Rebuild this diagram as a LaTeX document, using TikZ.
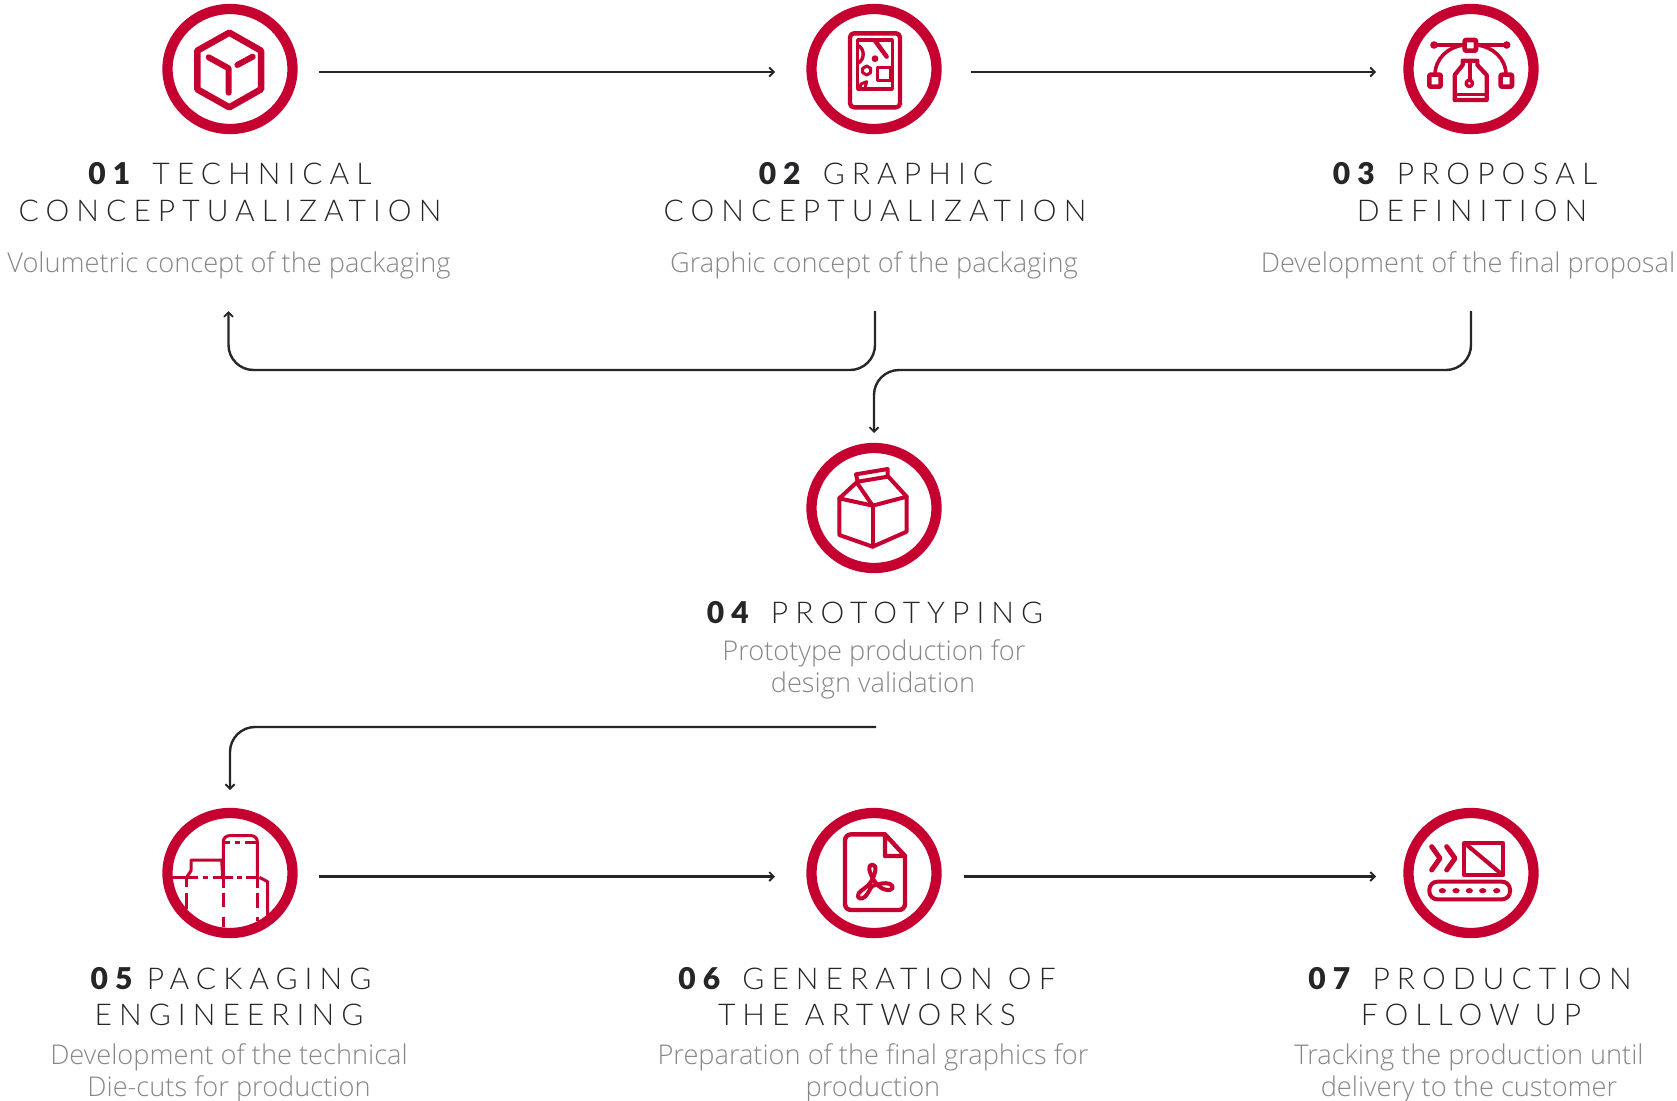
\documentclass[tikz,border=0pt]{standalone}
\usepackage{fontspec}
\usetikzlibrary{arrows.meta,shapes.geometric}
\setmainfont{Open Sans}[UprightFont=* Light,BoldFont=* Bold]
\newfontfamily\ttlfont{Lato}[UprightFont=* Light,BoldFont=* Black,LetterSpace=23.5]
\definecolor{crim}{RGB}{197,0,48}
\definecolor{ttl}{RGB}{38,38,40}
\definecolor{dsc}{RGB}{135,135,135}
\tikzset{
 ring/.style={ellipse,draw=crim,line width=10.3pt,minimum width=125pt,minimum height=120pt,inner sep=0pt,outer sep=0pt},
 flow/.style={draw=ttl,line width=2.4pt,-{Straight Barb[length=4.5pt,width=9pt,line width=1.8pt]},rounded corners=25pt},
 ttlnode/.style={font=\fontsize{30}{37}\selectfont\ttlfont,text=ttl,align=center,anchor=base,inner sep=0pt},
 dscnode/.style={font=\fontsize{27.2}{32}\selectfont,text=dsc,align=center,anchor=base,inner sep=0pt},
 ic/.style={draw=crim,line join=round,line cap=round},
 iconscope/.style={shift={(#1)},x=0.33333pt,y=-0.33333pt}
}
\begin{document}
\begin{tikzpicture}[x=1pt,y=-1pt]
\useasboundingbox (0,0) rectangle (1677,1100);
% rings
\node[ring] (c1) at (230,69) {};
\node[ring] (c2) at (874,69) {};
\node[ring] (c3) at (1471,69) {};
\node[ring] (c4) at (874,508) {};
\node[ring] (c5) at (230,873) {};
\node[ring] (c6) at (874,873) {};
\node[ring] (c7) at (1471,873) {};
% titles
\node[ttlnode] (t1a) at (230,184) {\textbf{01} TECHNICAL};
\node[ttlnode] (t1b) at (230,221) {CONCEPTUALIZATION};
\node[dscnode] (d1) at (229,272) {Volumetric concept of the packaging};
\node[ttlnode] (t2a) at (876,184) {\textbf{02} GRAPHIC};
\node[ttlnode] (t2b) at (875,221) {CONCEPTUALIZATION};
\node[dscnode] (d2) at (874,272) {Graphic concept of the packaging};
\node[ttlnode] (t3a) at (1465,184) {\textbf{03} PROPOSAL};
\node[ttlnode] (t3b) at (1472,221) {DEFINITION};
\node[dscnode] (d3) at (1468,272) {Development of the final proposal};
\node[ttlnode] (t4a) at (875,623) {\textbf{04} PROTOTYPING};
\node[dscnode] (d4a) at (874,660) {Prototype production for};
\node[dscnode] (d4b) at (873,692) {design validation};
\node[ttlnode] (t5a) at (231,989) {\textbf{05} \hspace{-8pt}PACKAGING};
\node[ttlnode] (t5b) at (229,1025) {ENGINEERING};
\node[dscnode] (d5a) at (229,1064) {Development of the technical};
\node[dscnode] (d5b) at (229,1096) {Die-cuts for production};
\node[ttlnode] (t6a) at (867,989) {\textbf{06} GENERATION OF};
\node[ttlnode] (t6b) at (867,1025) {THE ARTWORKS};
\node[dscnode] (d6a) at (873,1064) {Preparation of the final graphics for};
\node[dscnode] (d6b) at (873,1096) {production};
\node[ttlnode] (t7a) at (1470,989) {\textbf{07} PRODUCTION};
\node[ttlnode] (t7b) at (1471,1025) {FOLLOW UP};
\node[dscnode] (d7a) at (1469,1064) {Tracking the production until};
\node[dscnode] (d7b) at (1469,1096) {delivery to the customer};
% connector ends
\coordinate (s12) at (319,72); \coordinate (e12) at (775,72);
\coordinate (s23) at (971,72); \coordinate (e23) at (1376,72);
\coordinate (s21) at (875,311); \coordinate (e21) at (228.5,311);
\coordinate (s34) at (1471,311); \coordinate (e34) at (874,433);
\coordinate (s45) at (876,727); \coordinate (e45) at (230,790);
\coordinate (s56) at (319,876.5); \coordinate (e56) at (775,876.5);
\coordinate (s67) at (964,876.5); \coordinate (e67) at (1376,876.5);
\draw[flow] (s12) -- (e12);
\draw[flow] (s23) -- (e23);
\draw[flow] (s21) -- (875,370) -- (228.5,370) -- (e21);
\draw[flow] (s34) -- (1471,370) -- (874,370) -- (e34);
\draw[flow] (s45) -- (230,727) -- (e45);
\draw[flow] (s56) -- (e56);
\draw[flow] (s67) -- (e67);
% icon 1
\begin{scope}[iconscope={140,0}]
\draw[ic,line width=6.5pt] (268,98)--(363,152)--(363,268)--(268,322)--(172,268)--(172,152)--cycle;
\draw[ic,line width=6pt] (206,172)--(266,205)--(266,278);
\draw[ic,line width=6pt] (292,195)--(338,170);
\end{scope}
% icon 2
\begin{scope}[iconscope={785,0}]
\draw[ic,line width=4.4pt,rounded corners=4pt] (195,100) rectangle (345,322);
\draw[ic,line width=3.4pt] (218,120) rectangle (322,267);
\draw[ic,line width=3.4pt] (218,136) .. controls (240,145) and (240,180) .. (218,190);
\draw[ic,line width=4.4pt] (270,122)--(305,170);
\fill[crim] (270,176) circle[radius=3.4pt];
\draw[ic,line width=3pt] (245,198)--(257,205)--(257,218)--(245,225)--(233,218)--(233,205)--cycle;
\draw[ic,line width=3.4pt] (278,202) rectangle (318,242);
\draw[ic,line width=3pt] (224,264)--(228,252)--(245,245)--(240,264);
\end{scope}
% icon 3
\begin{scope}[iconscope={1380,0}]
\draw[ic,line width=3pt] (162,135)--(380,135);
\fill[crim] (162,135) circle[radius=3.8pt] (380,135) circle[radius=3.8pt];
\draw[ic,line width=3.6pt] (165,225) .. controls (165,175) and (205,140) .. (252,135);
\draw[ic,line width=3.6pt] (378,225) .. controls (378,175) and (338,140) .. (290,135);
\draw[ic,line width=4.6pt,fill=white,rounded corners=1pt] (254,120) rectangle (288,152);
\draw[ic,line width=4.6pt,fill=white,rounded corners=1pt] (148,224) rectangle (182,260);
\draw[ic,line width=4.6pt,fill=white,rounded corners=1pt] (362,224) rectangle (396,260);
\draw[ic,line width=4.2pt] (248,182)--(292,182)--(292,195)--(320,225)--(320,300)--(224,300)--(224,225)--(248,195)--cycle;
\draw[ic,line width=3.2pt] (270,185)--(270,240);
\draw[ic,line width=3.4pt] (268,250) circle[radius=3.2pt];
\draw[ic,line width=3pt] (224,284)--(320,284);
\end{scope}
% icon 4
\begin{scope}[iconscope={785,435}]
\draw[ic,line width=4pt] (163,190)--(163,300)--(263,335)--(365,290)--(365,185)--(263,212)--cycle;
\draw[ic,line width=4pt] (263,212)--(263,335);
\draw[ic,line width=4pt] (163,190)--(215,142)--(263,212);
\draw[ic,line width=4pt] (310,125)--(365,185);
\draw[ic,line width=4pt] (213,118)--(308,102)--(308,125)--(218,140)--cycle;
\end{scope}
% icon 5
\begin{scope}[iconscope={140,800}]
\draw[ic,line width=3pt,line cap=butt,rounded corners=6pt] (250,232)--(250,107)--(352,107)--(352,232);
\draw[ic,line width=3pt,line cap=butt] (248,232)--(245,180)--(153,180)--(153,212)--(140,232);
\draw[ic,line width=3pt,line cap=butt] (358,232)--(383,245)--(383,350);
\foreach \xa/\xb in {250/270,285/300,315/352}{\draw[ic,line width=2.8pt,line cap=butt] (\xa,128)--(\xb,128);}
\foreach \xa/\xb in {98/175,188/203,218/280,292/305,318/358}{\draw[ic,line width=3pt,line cap=butt] (\xa,232)--(\xb,232);}
\foreach \ya/\yb in {232/265,280/320,352/382}{\draw[ic,line width=3.4pt,line cap=butt] (250,\ya)--(250,\yb);}
\foreach \ya/\yb in {232/262,280/328}{\draw[ic,line width=3.4pt,line cap=butt] (140,\ya)--(140,\yb);}
\foreach \ya/\yb in {232/265,278/325,352/362}{\draw[ic,line width=2.6pt,line cap=butt] (352,\ya)--(352,\yb);}
\end{scope}
% icon 6
\begin{scope}[iconscope={785,800}]
\draw[ic,line width=4.4pt,rounded corners=6pt] (300,103)--(180,103)--(180,330)--(360,330)--(360,168);
\draw[ic,line width=4.4pt] (300,103)--(360,168)--(300,168)--cycle;
\draw[ic,line width=4pt] (266,240) .. controls (250,212) and (248,194) .. (262,194) .. controls (276,194) and (274,218) .. (258,245) .. controls (248,262) and (230,268) .. (221,280) .. controls (213,294) and (228,302) .. (240,290) .. controls (252,278) and (256,262) .. (262,258) .. controls (280,252) and (300,246) .. (315,252) .. controls (330,260) and (322,272) .. (306,270) .. controls (290,268) and (276,256) .. (266,240) -- cycle;
\end{scope}
% icon 7
\begin{scope}[iconscope={1380,800}]
\draw[ic,line width=5pt] (155,140)--(180,175)--(155,210);
\draw[ic,line width=5pt] (200,140)--(225,175)--(200,210);
\draw[ic,line width=4pt] (252,130) rectangle (370,225);
\draw[ic,line width=4pt] (262,136)--(362,220);
\draw[ic,line width=4pt,rounded corners=8pt] (148,245) rectangle (390,298);
\foreach \x in {187,228,268,308,350}{\fill[crim] (\x,272) ellipse[x radius=3.6pt,y radius=2.6pt];}
\end{scope}
\end{tikzpicture}
\end{document}
